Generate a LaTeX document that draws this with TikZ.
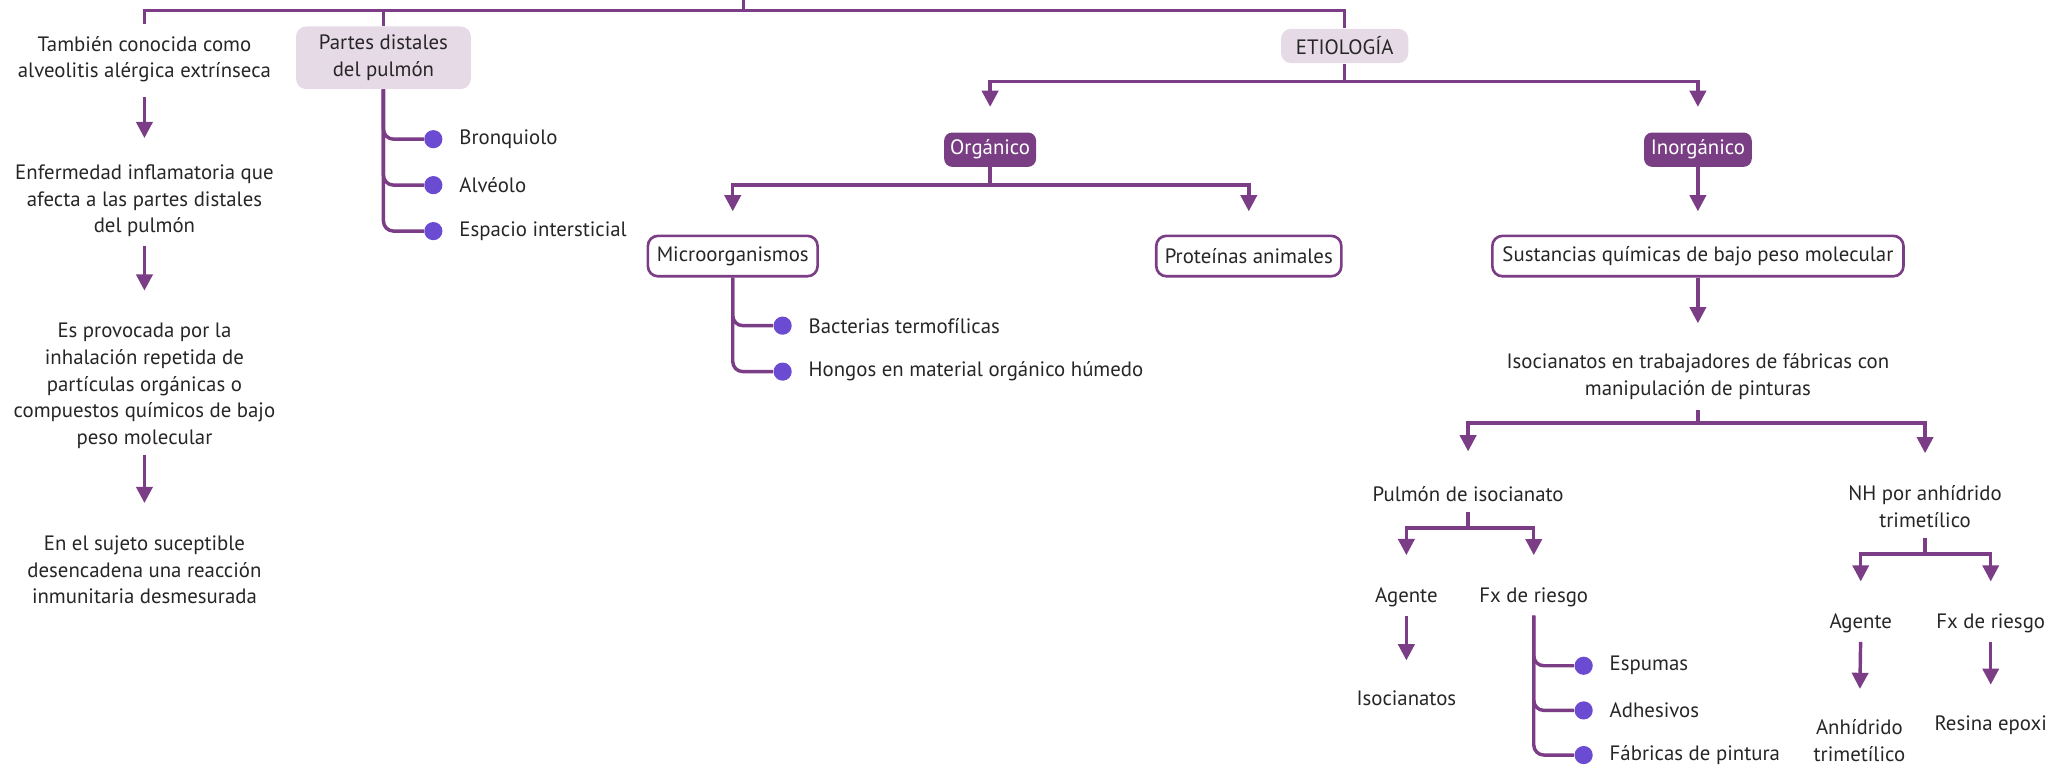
\documentclass[tikz,border=0pt]{standalone}
\usepackage{fontspec}
\setmainfont{PT Sans}
\usetikzlibrary{arrows.meta}
\definecolor{pur}{HTML}{7B3D86}
\definecolor{dpur}{HTML}{7A3E84}
\definecolor{lav}{HTML}{E7DAE7}
\definecolor{dotc}{HTML}{6B4BD1}
\definecolor{ink}{HTML}{262626}
\begin{document}
\begin{tikzpicture}[x=0.65pt,y=-0.65pt,
  ln/.style={draw=pur,line width=1.7pt},
  arr/.style={ln,-{Triangle[width=8pt,length=8pt]}},
  brk/.style={ln,rounded corners=5pt},
  txt/.style={font=\fontsize{10.3}{13.2}\selectfont,align=center,inner sep=0pt,text=ink},
  lbox/.style={txt,fill=lav,rounded corners=5pt,inner xsep=2pt},
  dbox/.style={txt,fill=dpur,text=white,rounded corners=4pt,inner xsep=2pt,minimum height=17pt},
  wbox/.style={txt,draw=pur,line width=1.3pt,fill=white,rounded corners=5pt,inner xsep=3pt,minimum height=20pt},
  bul/.style={circle,fill=dotc,minimum size=9pt,inner sep=0pt},
  lab/.style={txt,anchor=west,xshift=8pt}
]
\useasboundingbox (0,0) rectangle (1568,586);

% left column
\node[txt] (t1) at (110,45) {También conocida como\\alveolitis alérgica extrínseca};
\node[txt] (t2) at (110,153) {Enfermedad inflamatoria que\\afecta a las partes distales\\del pulmón};
\node[txt] (t3) at (110,294) {Es provocada por la\\inhalación repetida de\\partículas orgánicas o\\compuestos químicos de bajo\\peso molecular};
\node[txt] (t4) at (110,434) {En el sujeto suceptible\\desencadena una reacción\\inmunitaria desmesurada};
\draw[arr,shorten <=7pt,shorten >=13pt] (t1) -- (t2);
\draw[arr,shorten <=4pt,shorten >=16pt] (t2) -- (t3);
\draw[arr,shorten <=3pt,shorten >=16pt] (t3) -- (t4);

% boxes top
\node[lbox,minimum width=86.5pt,minimum height=31pt] (pd) at (292,44) {Partes distales\\del pulmón};
\node[lbox,minimum width=63pt,minimum height=17pt] (etio) at (1024,35) {ETIOLOGÍA};

% top bar
\coordinate (j0) at (566,8);
\coordinate (root) at (566,0);
\draw[ln] (root) -- (j0);
\draw[ln] ([yshift=6pt]t1.north) -- (t1.north |- j0) -- (etio.north |- j0) -- (etio.north);
\draw[ln] (pd.north |- j0) -- (pd.north);

% partes distales bullets
\node[bul] (b1) at (330,106) {};
\node[bul] (b2) at (330,141) {};
\node[bul] (b3) at (330,176) {};
\node[lab] (l1) at (b1.east) {Bronquiolo};
\node[lab] (l2) at (b2.east) {Alvéolo};
\node[lab] (l3) at (b3.east) {Espacio intersticial};
\draw[brk] (pd.south) |- (b1.west);
\draw[brk] (pd.south) |- (b2.west);
\draw[brk] (pd.south) |- (b3.west);

% etiologia split
\node[dbox,minimum width=45.5pt] (org) at (754,114) {Orgánico};
\node[dbox,minimum width=53.3pt] (inorg) at (1293,114) {Inorgánico};
\coordinate (j1) at (1024,62);
\draw[ln] (etio.south) -- (j1);
\draw[arr] (j1) -| ([yshift=12.5pt]org.north);
\draw[arr] (j1) -| ([yshift=12.5pt]inorg.north);

% organico
\node[wbox,minimum width=84pt] (micro) at (558,195) {Microorganismos};
\node[wbox,minimum width=91.6pt] (prot) at (951,195) {Proteínas animales};
\coordinate (j2) at (754,141);
\draw[ln] (org.south) -- (j2);
\draw[arr] (j2) -| ([yshift=11.5pt]micro.north);
\draw[arr] (j2) -| ([yshift=11.5pt]prot.north);
\node[bul] (c1) at (596,248) {};
\node[bul] (c2) at (596,283) {};
\node[lab] (m1) at (c1.east) {Bacterias termofílicas};
\node[lab] (m2) at (c2.east) {Hongos en material orgánico húmedo};
\draw[brk] (micro.south) |- (c1.west);
\draw[brk] (micro.south) |- (c2.west);

% inorganico
\node[wbox,minimum width=203.5pt] (sust) at (1293,195) {Sustancias químicas de bajo peso molecular};
\draw[arr] (inorg.south) -- ([yshift=11.5pt]sust.north);
\node[txt] (iso) at (1293,287) {Isocianatos en trabajadores de fábricas con\\manipulación de pinturas};
\draw[arr,shorten >=15pt] (sust.south) -- (iso.north);
\coordinate (j3) at (1293,322);
\draw[ln] ([yshift=-5pt]iso.south) -- (j3);
\node[txt] (pul) at (1118,376) {Pulmón de isocianato};
\node[txt] (nh) at (1466,386) {NH por anhídrido\\trimetílico};
\draw[arr] (j3) -| ([yshift=17pt]pul.north);
\draw[arr] (j3) -| ([yshift=16pt]nh.north);

% pulmon de isocianato
\node[txt] (ag1) at (1071,455) {Agente};
\node[txt] (fx1) at (1168,455) {Fx de riesgo};
\coordinate (j4) at (1118,402);
\draw[ln] ([yshift=-5pt]pul.south) -- (j4);
\draw[arr] (j4) -| ([yshift=16pt]ag1.north);
\draw[arr] (j4) -| ([yshift=16pt]fx1.north);
\node[txt] (isn) at (1071,532) {Isocianatos};
\draw[arr,shorten <=4pt,shorten >=15pt] (ag1) -- (isn);
\node[bul] (f1) at (1206,507) {};
\node[bul] (f2) at (1206,541) {};
\node[bul] (f3) at (1206,575) {};
\node[lab] (g1) at (f1.east) {Espumas};
\node[lab] (g2) at (f2.east) {Adhesivos};
\node[lab] (g3) at (f3.east) {Fábricas de pintura};
\coordinate (k1) at ([yshift=-4pt]fx1.south);
\draw[brk] (k1) |- (f1.west);
\draw[brk] (k1) |- (f2.west);
\draw[brk] (k1) |- (f3.west);

% NH
\node[txt] (ag2) at (1417,475) {Agente};
\node[txt] (fx2) at (1516,475) {Fx de riesgo};
\coordinate (j5) at (1466,422);
\draw[ln] ([yshift=-5pt]nh.south) -- (j5);
\draw[arr] (j5) -| ([yshift=16pt]ag2.north);
\draw[arr] (j5) -| ([yshift=16pt]fx2.north);
\node[txt] (anh) at (1416,564) {Anhídrido\\trimetílico};
\node[txt] (res) at (1516,552) {Resina epoxi};
\draw[arr,shorten <=4pt,shorten >=15pt] (ag2.south) -- (anh.north);
\draw[arr,shorten <=4pt,shorten >=15pt] (fx2.south) -- (res.north);
\end{tikzpicture}
\end{document}
